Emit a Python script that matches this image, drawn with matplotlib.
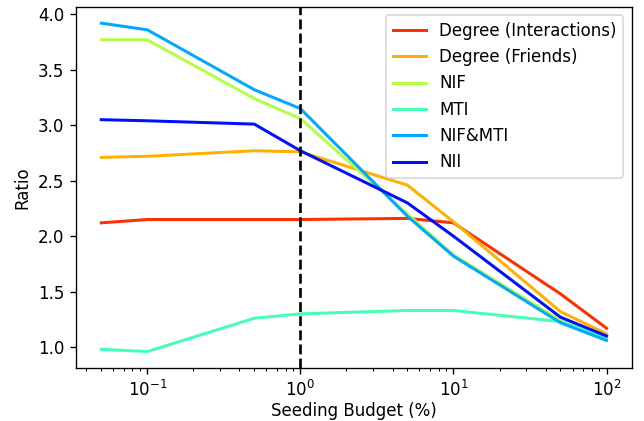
import matplotlib
matplotlib.use("Agg")
import matplotlib.pyplot as plt

budget = [0.05, 0.1, 0.5, 1, 5, 10, 50, 100]

deg_inter = [2.12, 2.15, 2.15, 2.15, 2.16, 2.12, 1.48, 1.17]
deg_friends = [2.71, 2.72, 2.77, 2.76, 2.46, 2.13, 1.32, 1.12]
nif = [3.77, 3.77, 3.24, 3.06, 2.20, 1.83, 1.24, 1.08]
mti = [0.98, 0.96, 1.26, 1.30, 1.33, 1.33, 1.23, 1.08]
nif_mti = [3.92, 3.86, 3.32, 3.15, 2.18, 1.82, 1.22, 1.06]
nii = [3.05, 3.04, 3.01, 2.77, 2.30, 2.00, 1.27, 1.10]

names = ["Degree (Interactions)", "Degree (Friends)", "NIF", "MTI", "NIF&MTI", "NII"]
series = [deg_inter, deg_friends, nif, mti, nif_mti, nii]
colors = ["#ff3000", "#ffb000", "#b4ff44", "#44ffb4", "#00a8ff", "#0010ff"]

fig, ax = plt.subplots(figsize=(644 / 120, 421 / 120), dpi=120)
for vals, name, c in zip(series, names, colors):
    ax.plot(budget, vals, color=c, lw=1.8, label=name)
ax.axvline(1, color="k", ls="--", lw=1.6)
ax.set_xscale("log")
ax.set_xlabel("Seeding Budget (%)", labelpad=1.5)
ax.set_ylabel("Ratio")
ax.legend(loc="upper right")
fig.subplots_adjust(left=0.118, right=0.981, top=0.984, bottom=0.126)
fig.savefig("out.png", dpi=120)
